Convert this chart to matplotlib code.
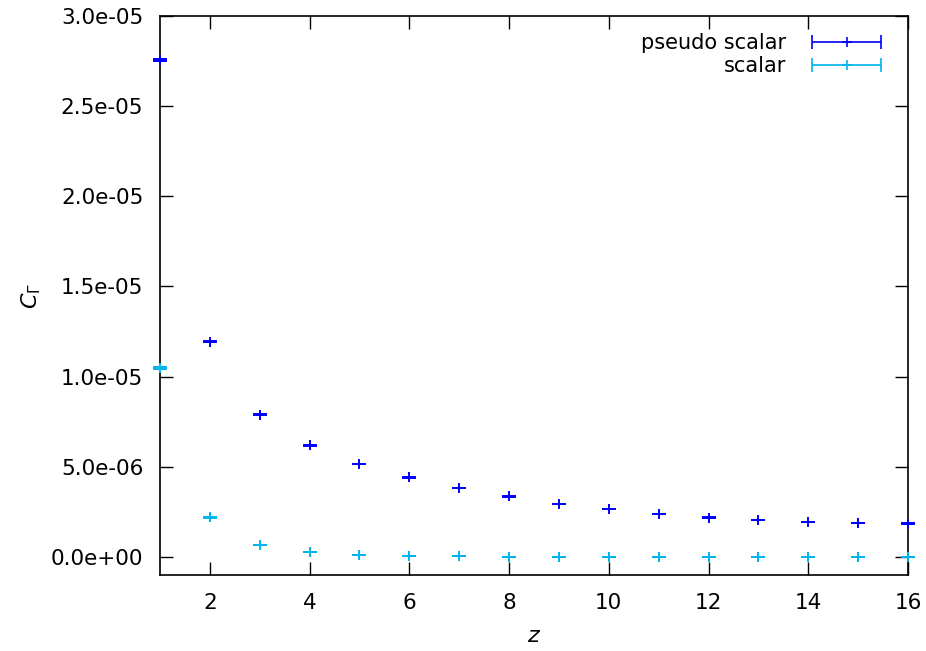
import numpy as np
import matplotlib
matplotlib.use("Agg")
import matplotlib.pyplot as plt
from matplotlib.ticker import FormatStrFormatter, MultipleLocator
from matplotlib.legend_handler import HandlerErrorbar

z = list(range(1, 17))
pseudo = [2.755e-05, 1.194e-05, 7.89e-06, 6.20e-06, 5.17e-06, 4.41e-06, 3.83e-06, 3.36e-06,
          2.94e-06, 2.65e-06, 2.40e-06, 2.18e-06, 2.04e-06, 1.93e-06, 1.87e-06, 1.85e-06]
pseudo_err = [4e-08, 3e-08, 2e-08, 2e-08, 1e-08, 1e-08, 1e-08, 1e-08,
              1e-08, 1e-08, 1e-08, 1e-08, 1e-08, 1e-08, 1e-08, 1e-08]
scalar = [1.048e-05, 2.19e-06, 6.7e-07, 2.6e-07, 1.1e-07, 6e-08, 4e-08, 2e-08,
          1.5e-08, 1e-08, 8e-09, 6e-09, 5e-09, 4e-09, 3e-09, 2e-09]
scalar_err = [3e-08, 1e-08, 5e-09, 3e-09, 2e-09, 1e-09, 1e-09, 1e-09,
              1e-09, 1e-09, 1e-09, 1e-09, 1e-09, 1e-09, 1e-09, 1e-09]

plt.rcParams['font.family'] = ['DejaVu Sans']
plt.rcParams['mathtext.fontset'] = 'dejavusans'

fig = plt.figure(figsize=(9.26, 6.51), dpi=100)
ax = fig.add_axes([160 / 926, 76 / 651, 748 / 926, 559 / 651])

for vals, errs, col in [(pseudo, pseudo_err, '#0000ff'), (scalar, scalar_err, '#00b4f0')]:
    cont = ax.errorbar(z, vals, yerr=errs, fmt='+', color=col, ms=6.5, mew=1.4,
                       elinewidth=1.2, capsize=5, capthick=1.3, zorder=3)
    for art in cont.get_children():
        art.set_clip_on(False)

# legend samples in gnuplot style: horizontal bar with end caps
h1 = ax.errorbar([np.nan], [np.nan], xerr=[1], fmt='+', color='#0000ff', ms=7, mew=1.2,
                 elinewidth=1.2, capsize=5, capthick=1.2)
h2 = ax.errorbar([np.nan], [np.nan], xerr=[1], fmt='+', color='#00b4f0', ms=7, mew=1.2,
                 elinewidth=1.2, capsize=5, capthick=1.2)
ax.legend([h1, h2], ['pseudo scalar', 'scalar'], loc='upper right', frameon=False,
          bbox_to_anchor=(1, 1.018), markerfirst=False, fontsize=15,
          handlelength=3.3, handletextpad=1.25, labelspacing=0.15, borderaxespad=0.9,
          handler_map={type(h1): HandlerErrorbar(xerr_size=1.65)})

ax.set_xlim(1, 16)
ax.set_ylim(-1e-06, 3e-05)
ax.xaxis.set_major_locator(MultipleLocator(2))
ax.yaxis.set_major_locator(MultipleLocator(5e-06))
ax.yaxis.set_major_formatter(FormatStrFormatter('%.1e'))
ax.tick_params(direction='in', length=9.5, width=1, top=True, right=True,
               labelsize=15.5, pad=12)
ax.tick_params(axis='x', pad=13)
for s in ax.spines.values():
    s.set_linewidth(1.2)

ax.set_xlabel('$z$', fontsize=16, labelpad=9)
ax.set_ylabel(r'$C_\Gamma$', fontsize=16, labelpad=6)

fig.savefig('out.png', dpi=100)
